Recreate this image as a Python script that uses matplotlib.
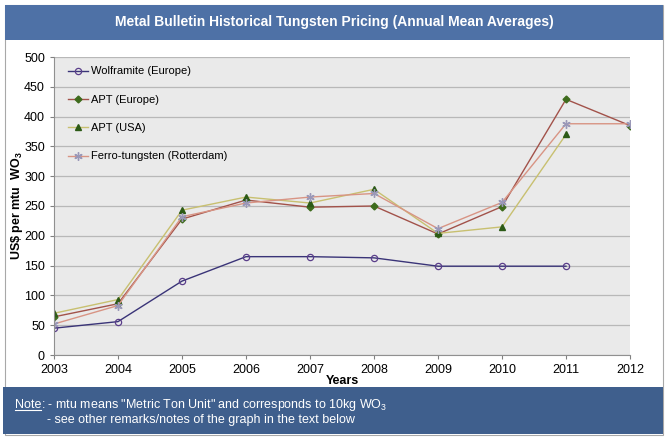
import matplotlib
matplotlib.use("Agg")
import matplotlib.pyplot as plt
from matplotlib.patches import Rectangle
from matplotlib.lines import Line2D

plt.rcParams['font.family'] = ['Liberation Sans', 'DejaVu Sans']
plt.rcParams['mathtext.fontset'] = 'custom'
plt.rcParams['mathtext.rm'] = 'Liberation Sans'
plt.rcParams['mathtext.bf'] = 'Liberation Sans:bold'

years = [2003, 2004, 2005, 2006, 2007, 2008, 2009, 2010, 2011, 2012]
wolf_years = [2003, 2004, 2005, 2006, 2007, 2008, 2009, 2010, 2011]
wolframite = [45, 56, 124, 165, 165, 163, 149, 149, 149]
apt_eu_years = years
apt_europe = [64, 86, 228, 260, 248, 250, 203, 249, 429, 385]
apt_usa_years = [2003, 2004, 2005, 2006, 2007, 2008, 2009, 2010, 2011]
apt_usa = [70, 93, 243, 265, 255, 278, 204, 215, 370]
ferro_years = years
ferro = [52, 83, 232, 255, 265, 271, 212, 256, 388, 388]

title = "Metal Bulletin Historical Tungsten Pricing (Annual Mean Averages)"
labels = ["Wolframite (Europe)", "APT (Europe)", "APT (USA)", "Ferro-tungsten (Rotterdam)"]

fig = plt.figure(figsize=(6.68, 4.41), dpi=100)
fig.patch.set_facecolor('white')

# outer border
fig.add_artist(Rectangle((5/668, 1-435/441), 658/668, 430/441, transform=fig.transFigure,
                         fill=False, edgecolor='#A8A8A8', lw=0.8))
# title bar
fig.add_artist(Rectangle((5/668, 1-40/441), 658/668, 35/441, transform=fig.transFigure,
                         facecolor='#4E71A6', edgecolor='none'))
fig.text(0.5, 1-22/441, title, color='white', fontsize=10, fontweight='bold',
         ha='center', va='center')
# note bar
fig.add_artist(Rectangle((3/668, 1-434/441), 660/668, 47/441, transform=fig.transFigure,
                         facecolor='#3F5F8D', edgecolor='none'))

ax = fig.add_axes([54/668, 1-355/441, 576/668, 298/441])
ax.set_facecolor('#EAEAEA')

ax.plot(wolf_years, wolframite, color='#3A3478', lw=1.0, marker='o', ms=4.5,
        mfc='none', mec='#5A3E8A', mew=0.9, label=labels[0])
ax.plot(apt_eu_years, apt_europe, color='#A2524A', lw=1.0, marker='D', ms=3.5,
        mfc='#3E6B1C', mec='#3E6B1C', label=labels[1])
ax.plot(apt_usa_years, apt_usa, color='#C8C070', lw=1.0, marker='^', ms=5,
        mfc='#2C5A16', mec='#2C5A16', label=labels[2])
ax.plot(ferro_years, ferro, color='#D89484', lw=1.0, marker=(6, 2, 0), ms=6,
        mfc='none', mec='#9A98B8', mew=1.0, label=labels[3])

ax.set_xlim(2003, 2012)
ax.set_ylim(0, 500)
ax.set_xticks(years)
ax.set_yticks(range(0, 501, 50))
ax.tick_params(axis='both', labelsize=9, direction='out', length=3, color='#808080')
ax.grid(axis='y', color='#B8B8B8', lw=0.9)
ax.set_axisbelow(True)
for s in ['top', 'right']:
    ax.spines[s].set_visible(False)
for s in ['left', 'bottom']:
    ax.spines[s].set_color('#909090')

ax.set_xlabel('Years', fontsize=9, fontweight='bold')
ax.xaxis.set_label_coords(0.5, -0.068)
ax.set_ylabel(r'US\$ per mtu  WO$_\mathbf{3}$', fontsize=9, fontweight='bold')
ax.yaxis.set_label_coords(-0.050, 0.5)

leg = ax.legend(loc='upper left', frameon=False, fontsize=8, labelspacing=1.65,
                handlelength=1.8, handletextpad=0.3, borderaxespad=0.4,
                bbox_to_anchor=(0.009, 0.998))

# note text
fy1 = 1-405/441
fy2 = 1-420/441
t = fig.text(15/668, fy1, 'Note', color='white', fontsize=9, va='center', ha='left')
fig.canvas.draw()
bb = t.get_window_extent()
inv = fig.transFigure.inverted()
(x0, y0), (x1, y1) = inv.transform([[bb.x0, bb.y0], [bb.x1, bb.y1]])
fig.add_artist(Line2D([x0, x1], [y0 + 0.002, y0 + 0.002], transform=fig.transFigure,
                      color='white', lw=0.8))
fig.text(x1, fy1, ': - mtu means "Metric Ton Unit" and corresponds to 10kg WO$_3$',
         color='white', fontsize=9, va='center', ha='left')
fig.text(x1 + 6/668, fy2, '- see other remarks/notes of the graph in the text below',
         color='white', fontsize=9, va='center', ha='left')

fig.savefig('out.png', dpi=100, facecolor='white')
